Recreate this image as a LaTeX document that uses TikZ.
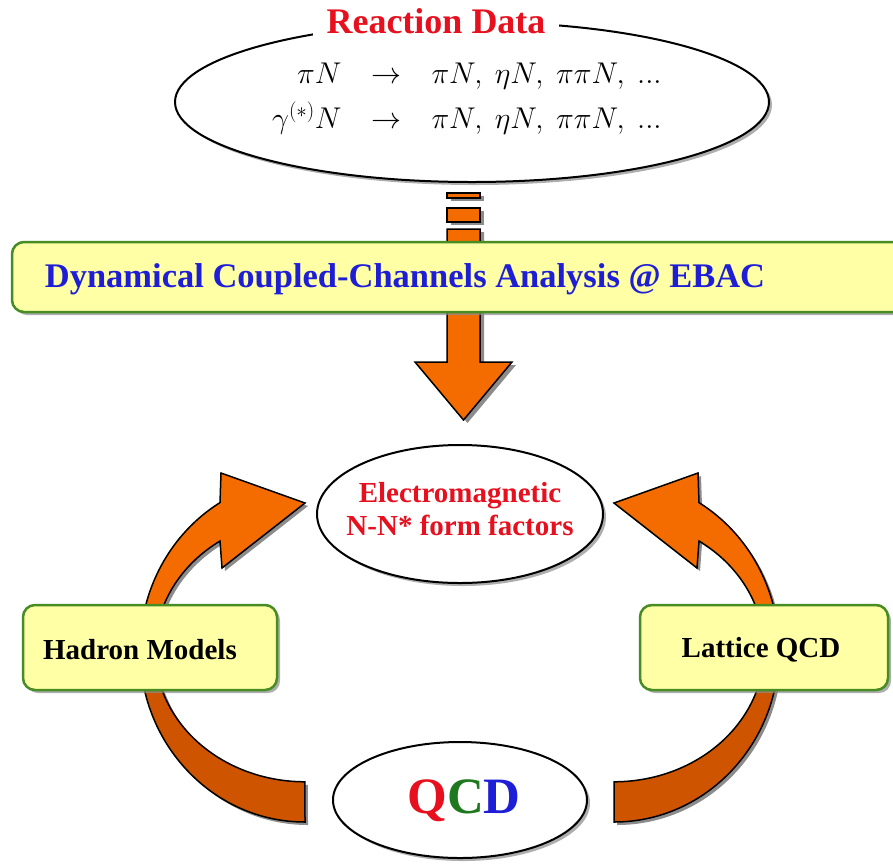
\RequirePackage{fix-cm}
\documentclass[tikz,border=0pt]{standalone}
\usepackage{fontspec}
\setmainfont{Liberation Serif}
\usetikzlibrary{shapes.geometric,shadows}

\definecolor{arrowhi}{RGB}{244,108,0}
\definecolor{arrowlo}{RGB}{206,84,0}
\definecolor{boxfill}{RGB}{255,255,166}
\definecolor{boxedge}{RGB}{72,140,36}
\definecolor{labelred}{RGB}{230,16,30}
\definecolor{labelblue}{RGB}{30,30,215}
\definecolor{qcdgreen}{RGB}{30,120,30}
\definecolor{shadowgray}{RGB}{140,140,140}

% curved block arrow running from the bottom up to the upper right
\newcommand\ccarrowshape[1]{%
  \path[#1] (305,822) arc[start angle=90, end angle=239, x radius=165, y radius=172]
    -- (221,473) -- (305,503) -- (222,568) -- (220,541)
    arc[start angle=235.5, end angle=90, x radius=150, y radius=132] -- cycle;}

% striped block arrow pointing down
\newcommand\downarrowshape[1]{%
  \path[#1] (447,193) rectangle (480,198);
  \path[#1] (447,208) rectangle (480,222);
  \path[#1] (447,229) -- (480,229) -- (480,362) -- (512,362) -- (463.5,420)
    -- (415,362) -- (447,362) -- cycle;}

\tikzset{
  shade3/.style={drop shadow={shadow xshift=3pt, shadow yshift=-3pt, fill=shadowgray, opacity=0.7}},
  oval/.style={ellipse, draw=black, line width=2pt, fill=white, inner sep=0pt, shade3},
  panel/.style={rectangle, rounded corners=12pt, draw=boxedge, line width=2.5pt,
    fill=boxfill, inner sep=0pt, shade3},
  boldlabel/.style={font=\bfseries\fontsize{29}{33}\selectfont, align=center, inner sep=0pt},
}

\begin{document}
\begin{tikzpicture}[x=1pt, y=-1pt]
\useasboundingbox[fill=white] (0,0) rectangle (893,863);

% reaction data ellipse
\node[oval, minimum width=594pt, minimum height=160pt] (data) at (472,102) {};
\node[font=\bfseries\fontsize{36}{40}\selectfont, text=labelred, fill=white,
  inner xsep=14pt, inner ysep=2pt] (datatitle) at (436,21) {Reaction Data};
\node[inner sep=0pt, font=\fontsize{30}{45}\selectfont] (reactions) at (467,97)
  {\begin{tabular}{@{}r@{\hspace{1em}}c@{\hspace{1em}}l@{}}
    $\pi N$ & $\rightarrow$ & $\pi N,\ \eta N,\ \pi\pi N,\ ...$\\
    $\gamma^{(*)}N$ & $\rightarrow$ & $\pi N,\ \eta N,\ \pi\pi N,\ ...$
   \end{tabular}};

% striped arrow into the analysis
\downarrowshape{fill=shadowgray, shift={(4,3)}}
\downarrowshape{fill=arrowhi, draw=black, line width=1.5pt}

% analysis banner
\node[panel, minimum width=903pt, minimum height=70pt] (dcc) at (463.5,277) {};
\node[font=\bfseries\fontsize{34.5}{40}\selectfont, text=labelblue, inner sep=0pt]
  (dcctext) at (405,279) {Dynamical Coupled-Channels Analysis @ EBAC};

% form factor ellipse
\node[oval, minimum width=286pt, minimum height=138pt] (ff) at (460,514) {};
\node[boldlabel, text=labelred] (fftext) at (460,509)
  {Electromagnetic\\N-N* form factors};

% curved arrows from QCD to the form factors
\ccarrowshape{fill=shadowgray, shift={(3,3)}}
\ccarrowshape{fill=arrowlo}
\begin{scope}
  \clip (0,0) rectangle (893,645);
  \ccarrowshape{fill=arrowhi}
\end{scope}
\ccarrowshape{draw=black, line width=1.5pt}

\begin{scope}[xshift=919pt, xscale=-1]
  \ccarrowshape{fill=shadowgray, shift={(-3,3)}}
  \ccarrowshape{fill=arrowlo}
  \begin{scope}
    \clip (0,0) rectangle (893,645);
    \ccarrowshape{fill=arrowhi}
  \end{scope}
  \ccarrowshape{draw=black, line width=1.5pt}
\end{scope}

% model boxes
\node[panel, minimum width=254pt, minimum height=85pt] (hadron) at (150,647.5) {};
\node[boldlabel] (hadrontext) at (140,650) {Hadron Models};
\node[panel, minimum width=248pt, minimum height=85pt] (lattice) at (764,647.5) {};
\node[boldlabel] (latticetext) at (761,650) {Lattice QCD};

% QCD ellipse
\node[oval, minimum width=254pt, minimum height=116pt] (qcd) at (460,800) {};
\node[font=\bfseries\fontsize{51}{56}\selectfont, inner sep=0pt] (qcdtext) at (464,801)
  {\textcolor{labelred}{Q}\textcolor{qcdgreen}{C}\textcolor{labelblue}{D}};
\end{tikzpicture}
\end{document}
